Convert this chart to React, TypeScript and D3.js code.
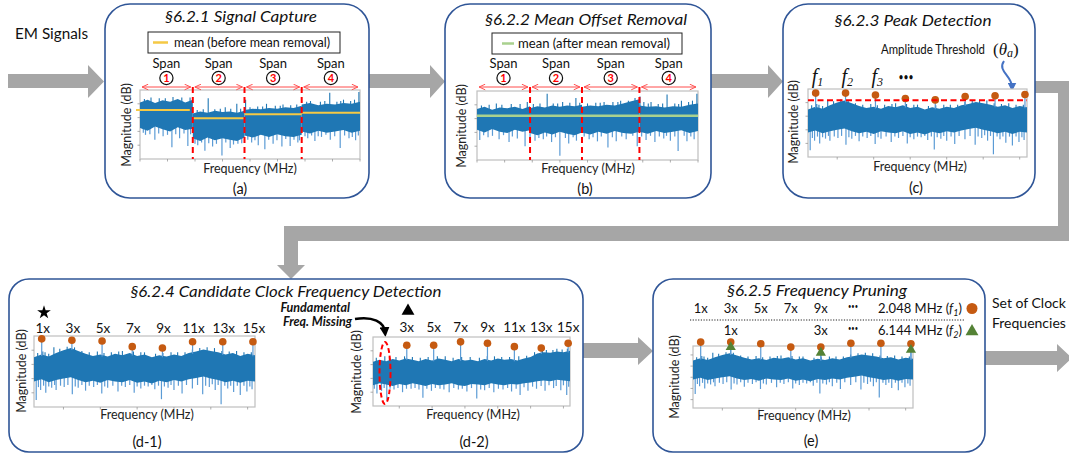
import React from "react";
import * as d3 from "d3";

const FONT = "Lato, 'Open Sans', 'DejaVu Sans', sans-serif";
const SERIF = "'Liberation Serif', 'DejaVu Serif', serif";

const NOISE = "#1f77b4";
const SPIKE = "#5b9bd5";
const ORANGE = "#c55a11";
const GREEN = "#548235";
const RED = "#ff0000";
const BOXBLUE = "#2f5597";
const GRAY = "#a6a6a6";

// ---------- §6.2.1 / §6.2.2 : four capture spans (relative frequency 0–40) ----------
const spanLabels = ["1", "2", "3", "4"];
const spanEdges = [0, 9.6, 19.0, 29.4, 40];
const rawUpper = [
  [82, 86, 81, 85, 83, 87, 82, 86],
  [66, 69, 67, 70, 68, 69, 67, 70],
  [71, 73, 72, 74, 73, 75, 74, 77],
  [79, 81, 78, 80, 79, 81, 80, 83],
];
const rawLower = [
  [45, 41, 47, 43, 40, 46, 42, 44],
  [30, 26, 31, 27, 30, 28, 26, 31],
  [34, 31, 35, 32, 36, 33, 32, 35],
  [40, 37, 41, 38, 40, 42, 38, 41],
];
const rawMeans = [71, 59, 65, 67];
const rawDown = [
  [1.0, 35], [2.7, 28], [4.2, 33], [5.8, 17], [7.2, 30], [8.7, 19], [10.5, 20], [11.8, 12],
  [13.2, 18], [14.9, 5], [16.4, 16], [17.8, 22], [20.3, 24], [21.5, 20], [22.7, 14], [24.2, 22],
  [25.8, 18], [27.3, 19], [28.7, 24], [30.5, 30], [31.8, 26], [33.0, 32], [34.6, 28], [36.4, 16],
  [38.0, 30], [39.2, 27],
  [0.6, 38], [1.8, 36], [3.4, 37], [5.0, 35], [6.5, 36], [8.0, 37], [9.2, 36],
  [10.0, 22], [11.2, 24], [12.5, 23], [13.9, 22], [15.6, 24], [17.0, 21], [18.5, 23],
  [19.6, 28], [20.9, 27], [23.4, 28], [24.9, 27], [26.5, 29], [28.0, 28], [29.0, 27],
  [30.0, 33], [31.2, 34], [32.4, 33], [33.8, 35], [35.4, 33], [37.2, 34], [38.6, 32], [39.7, 34],
];
const rawUp = [
  [3.5, 88], [9.1, 89], [12.4, 88], [15.5, 75], [17.6, 80], [19.2, 86], [23.0, 80], [26.0, 79],
  [34.5, 96], [37.0, 86], [39.8, 97],
  [0.8, 87], [2.0, 89], [4.6, 88], [6.0, 90], [7.6, 89],
  [10.4, 71], [11.5, 72], [13.6, 72], [14.6, 73], [16.5, 73], [18.3, 73],
  [20.0, 75], [21.4, 76], [22.3, 76], [24.6, 77], [25.5, 77], [27.4, 78], [28.5, 79],
  [30.3, 83], [31.0, 84], [32.8, 83], [33.6, 84], [35.8, 83], [36.5, 84], [38.3, 84], [39.0, 86],
];
const alignedUpper = [
  [74, 77, 73, 76, 75, 77, 74, 78],
  [75, 78, 76, 79, 77, 79, 78, 80],
  [77, 79, 78, 80, 79, 82, 85, 88],
  [79, 77, 78, 76, 78, 77, 80, 82],
];
const alignedLower = [
  [44, 40, 45, 41, 39, 44, 41, 43],
  [39, 36, 40, 37, 41, 38, 36, 40],
  [40, 37, 41, 38, 42, 39, 38, 41],
  [41, 38, 42, 39, 41, 43, 39, 42],
];
const alignedMean = 64;
const alignedDown = [
  [0.5, 29], [2.0, 33], [4.0, 30], [5.8, 26], [7.3, 31], [8.7, 20], [10.5, 28], [12.0, 30],
  [13.5, 26], [15.0, 6], [16.6, 24], [18.0, 28], [20.3, 30], [21.8, 27], [23.7, 18], [25.2, 27],
  [27.0, 30], [29.0, 20], [30.6, 29], [32.2, 26], [33.8, 31], [35.0, 28], [36.4, 13], [38.0, 27],
  [39.3, 30],
  [1.2, 36], [2.8, 35], [4.8, 36], [6.4, 34], [9.6, 33], [11.2, 32], [12.6, 34], [14.2, 33],
  [16.0, 32], [17.4, 33], [19.4, 34], [21.0, 33], [22.5, 34], [24.5, 33], [26.2, 34], [28.2, 35],
  [29.8, 34], [31.4, 35], [33.0, 34], [34.3, 35], [35.8, 34], [37.5, 35], [38.7, 34],
];
const alignedUp = [
  [3.5, 82], [9.1, 84], [12.7, 96], [15.5, 84], [17.9, 90], [23.0, 84], [26.0, 86], [29.5, 92],
  [31.5, 84], [34.4, 95], [37.0, 86], [39.8, 96],
  [0.8, 79], [2.2, 80], [4.5, 80], [6.2, 81], [7.8, 81], [10.2, 81], [11.4, 82], [13.8, 82],
  [14.6, 82], [16.8, 83], [18.6, 83], [20.0, 82], [21.5, 83], [22.3, 83], [24.6, 84], [25.5, 84],
  [27.4, 86], [28.6, 90], [30.2, 84], [31.0, 82], [32.8, 81], [33.6, 82], [35.8, 82], [36.5, 81],
  [38.3, 84], [39.0, 86],
];

// ---------- spectrum with clock at f1 (MHz 1–31) ----------
const freqGrid = d3.range(1, 32);
const f1Upper = [70, 74, 71, 76, 80, 83, 79, 75, 72, 74, 71, 75, 73, 76, 72, 74, 70, 73, 71, 74, 72, 76, 78, 81, 79, 77, 74, 76, 72, 75, 73];
const f1Lower = [36, 39, 35, 38, 40, 42, 38, 35, 37, 34, 38, 36, 35, 38, 34, 36, 33, 37, 35, 38, 36, 39, 41, 43, 40, 38, 35, 37, 34, 37, 36];
const f1Down = [
  [1.3, 10], [1.6, 28], [1.9, 24], [2.3, 30], [2.6, 20], [3.0, 29], [3.4, 27], [3.8, 31], [4.0, 24],
  [4.6, 30], [5.1, 28], [5.6, 31], [6.2, 18], [6.6, 29], [7.0, 27], [7.5, 31], [8.0, 23], [8.5, 30],
  [9.1, 28], [9.6, 31], [10.2, 19], [10.6, 29], [11.0, 27], [11.7, 30], [12.4, 22], [12.9, 30],
  [13.4, 28], [14.0, 31], [14.6, 20], [15.0, 29], [15.5, 26], [16.0, 30], [16.5, 29], [17.0, 31],
  [17.4, 25], [17.9, 30], [18.3, 11], [18.7, 29], [19.2, 27], [19.6, 31], [20.0, 24], [20.6, 30],
  [21.1, 19], [21.7, 31], [22.5, 26], [23.2, 31], [23.9, 18], [24.3, 30], [24.8, 28], [25.2, 32],
  [25.6, 24], [26.0, 31], [26.4, 4], [26.9, 30], [27.3, 26], [27.7, 30], [28.1, 21], [28.6, 30],
  [29.0, 17], [29.5, 30], [29.9, 22], [30.3, 29], [30.6, 25],
];
const f1Up = [
  [2.2, 78], [3.7, 84], [7.5, 79], [9.6, 78], [13.0, 79], [16.0, 77], [19.6, 77], [25.5, 83], [28.5, 79],
  [1.5, 76], [2.5, 77], [3.0, 75], [4.5, 82], [5.5, 85], [6.5, 84], [8.5, 77], [10.5, 76], [11.5, 77],
  [12.5, 78], [14.5, 78], [15.5, 77], [17.5, 75], [18.5, 76], [20.5, 77], [21.5, 77], [22.5, 81],
  [23.5, 83], [24.5, 84], [26.5, 79], [27.5, 78], [29.5, 77], [30.5, 77],
];

// spectrum where fundamental is missing (d-2)
const f2Upper = [64, 67, 65, 68, 66, 69, 67, 65, 68, 66, 69, 67, 65, 68, 66, 67, 65, 68, 66, 69, 67, 68, 66, 69, 71, 76, 78, 77, 79, 78, 80];
const f2Lower = [30, 33, 31, 29, 32, 30, 33, 31, 29, 32, 30, 31, 33, 30, 29, 32, 31, 30, 33, 31, 30, 32, 31, 33, 34, 36, 37, 36, 38, 37, 36];
const f2Down = [
  [1.6, 18], [2.3, 22], [3.1, 9], [4.2, 24], [5.5, 20], [6.8, 25], [8.6, 12], [9.9, 22], [11.2, 25],
  [12.6, 20], [14.0, 24], [15.3, 21], [16.8, 11], [18.0, 23], [19.4, 20], [20.8, 24], [22.1, 21],
  [23.4, 16], [24.6, 22], [25.9, 25], [27.2, 22], [28.5, 26], [29.6, 23], [30.5, 16],
  [1.2, 25], [2.7, 26], [3.6, 25], [4.8, 26], [6.1, 25], [7.4, 26], [8.0, 24], [9.2, 25], [10.5, 26],
  [11.8, 24], [13.3, 26], [14.6, 25], [16.0, 26], [17.4, 24], [18.7, 26], [20.1, 25], [21.5, 26],
  [22.8, 25], [24.0, 27], [25.3, 28], [26.6, 29], [27.8, 30], [28.9, 29], [30.0, 30], [30.8, 28],
];
const f2Up = [
  [2.8, 72], [7.0, 71], [12.0, 72], [19.5, 72], [26.8, 82], [29.0, 83],
  [1.5, 70], [3.5, 71], [4.5, 71], [5.8, 72], [8.2, 70], [9.4, 71], [10.8, 72], [13.2, 70], [14.5, 71],
  [15.8, 71], [17.2, 70], [18.4, 72], [20.6, 71], [21.8, 71], [23.2, 72], [24.4, 73], [25.6, 78],
  [27.4, 81], [28.4, 81], [29.8, 82], [30.6, 83],
];

// harmonics
const f1MHz = 2.048;
const f2MHz = 6.144;
const f1Orders = [1, 3, 5, 7, 9, 11, 13, 15];
const d2Orders = [3, 5, 7, 9, 11, 13, 15];
const f2Orders = [1, 3, 5];
const peaksC = [94, 94, 91, 86, 84, 89, 90, 92];
const thresholdC = 83.5;
const peaksD1 = [96, 94, 93, 85, 83, 92, 92, 92];
const peaksD2 = [88, 88, 93, 91, 86, 84, 91];
const peaksE = [103, 103, 100, 94, 94, 101, 101, 100];
const trianglesE = [94, 84, 89];
const eRow1Orders = [1, 3, 5, 7, 9];
const eRow2Orders = [1, 3];

// ---------- helpers ----------
type Seg = { xs: number[]; upper: number[]; lower: number[] };
type Box = { x0: number; x1: number; y0: number; y1: number };
type Mk = { f: number; v: number; shape: "circle" | "triangle" };

function interp(xs: number[], ys: number[], f: number) {
  if (f <= xs[0]) return ys[0];
  for (let i = 1; i < xs.length; i++) {
    if (f <= xs[i]) {
      const t = (f - xs[i - 1]) / (xs[i] - xs[i - 1]);
      return ys[i - 1] + t * (ys[i] - ys[i - 1]);
    }
  }
  return ys[ys.length - 1];
}
function segAt(segs: Seg[], f: number) {
  return segs.find((s) => f >= s.xs[0] && f <= s.xs[s.xs.length - 1]) || segs[segs.length - 1];
}
function scales(box: Box, xd: number[], yd: number[]) {
  return {
    x: d3.scaleLinear().domain(xd).range([box.x0, box.x1]),
    y: d3.scaleLinear().domain(yd).range([box.y1, box.y0]),
  };
}
function spanGrid(i: number, n: number) {
  const e0 = spanEdges[i], e1 = spanEdges[i + 1];
  return d3.range(n).map((k) => e0 + ((e1 - e0) * k) / (n - 1));
}

const triSym = (size: number) => d3.symbol().type(d3.symbolTriangle).size(size)() as string;

function Spectrum(p: { box: Box; sc: any; segs: Seg[]; down: number[][]; up: number[][]; markers?: Mk[]; nx?: number }) {
  const { x, y } = p.sc;
  const b = p.box;
  const area = d3.area<any>().x((d: any) => x(d.f)).y0((d: any) => y(d.l)).y1((d: any) => y(d.u));
  return (
    <g>
      <rect x={b.x0} y={b.y0} width={b.x1 - b.x0} height={b.y1 - b.y0} fill="#fff" stroke="#bfbfbf" strokeWidth={1.2} />
      {x.ticks(p.nx ?? 6).map((t: number) => (
        <line key={"x" + t} x1={x(t)} x2={x(t)} y1={b.y1} y2={b.y1 + 2.5} stroke="#999" strokeWidth={0.8} />
      ))}
      {y.ticks(4).filter((t: number) => y(t) > b.y0 + 3 && y(t) < b.y1 - 3).map((t: number) => (
        <line key={"y" + t} x1={b.x0 - 2.5} x2={b.x0} y1={y(t)} y2={y(t)} stroke="#999" strokeWidth={0.8} />
      ))}
      {p.down.map(([f, v], i) => {
        const s = segAt(p.segs, f);
        const base = interp(s.xs, s.lower, f) + 4;
        return <line key={"d" + i} x1={x(f)} x2={x(f)} y1={y(base)} y2={y(v)} stroke={SPIKE} strokeWidth={1.2} />;
      })}
      {p.segs.map((s, i) => (
        <path key={"s" + i} d={area(s.xs.map((f, k) => ({ f, u: s.upper[k], l: s.lower[k] }))) as string} fill={NOISE} />
      ))}
      {p.up.map(([f, v], i) => {
        const s = segAt(p.segs, f);
        const base = interp(s.xs, s.upper, f) - 3;
        return <line key={"u" + i} x1={x(f)} x2={x(f)} y1={y(base)} y2={y(v)} stroke={NOISE} strokeWidth={1.1} />;
      })}
      {(p.markers || []).map((m, i) => {
        const s = segAt(p.segs, m.f);
        const base = interp(s.xs, s.upper, m.f) - 2;
        return <line key={"st" + i} x1={x(m.f)} x2={x(m.f)} y1={y(base)} y2={y(m.v)} stroke={SPIKE} strokeWidth={1.2} />;
      })}
      {(p.markers || []).map((m, i) =>
        m.shape === "circle" ? (
          <circle key={"m" + i} cx={x(m.f)} cy={y(m.v)} r={3.8} fill={ORANGE} />
        ) : (
          <path key={"m" + i} d={triSym(45)} transform={`translate(${x(m.f)},${y(m.v)})`} fill={GREEN} />
        )
      )}
    </g>
  );
}

function MagLabel({ x, y }: { x: number; y: number }) {
  return (
    <text transform={`translate(${x},${y}) rotate(-90)`} textAnchor="middle" fontSize={12.5} fill="#222">
      Magnitude (dB)
    </text>
  );
}
function FreqLabel({ x, y }: { x: number; y: number }) {
  return (
    <text x={x} y={y} textAnchor="middle" fontSize={12.5} fill="#222">
      Frequency (MHz)
    </text>
  );
}
function Caption({ x, y, t }: { x: number; y: number; t: string }) {
  return (
    <text x={x} y={y} textAnchor="middle" fontSize={14.5} fill="#111">
      {t}
    </text>
  );
}
function Title({ x, y, w, t }: { x: number; y: number; w: number; t: string }) {
  return (
    <text x={x} y={y} textAnchor="middle" fontSize={15.5} fontStyle="italic" fill="#111" textLength={w} lengthAdjust="spacingAndGlyphs">
      {t}
    </text>
  );
}

function SpanHeader({ sc, box }: { sc: any; box: Box }) {
  const yA = 87;
  return (
    <g>
      {spanLabels.map((lab, i) => {
        const a = sc.x(spanEdges[i]) + 2;
        const b = sc.x(spanEdges[i + 1]) - 2;
        const mid = (sc.x(spanEdges[i]) + sc.x(spanEdges[i + 1])) / 2;
        return (
          <g key={lab}>
            <text x={mid} y={68} textAnchor="middle" fontSize={13} fill="#111">Span</text>
            <circle cx={mid} cy={78} r={6.6} fill="#fff" stroke="#111" strokeWidth={1.2} />
            <text x={mid} y={82} textAnchor="middle" fontSize={11} fontWeight="bold" fill={RED}>{lab}</text>
            <line x1={a} x2={b} y1={yA} y2={yA} stroke="#ff4d4d" strokeWidth={1} markerStart="url(#redArr)" markerEnd="url(#redArr)" />
          </g>
        );
      })}
      {spanEdges.slice(1, 4).map((e, i) => (
        <line key={"v" + i} x1={sc.x(e)} x2={sc.x(e)} y1={yA} y2={box.y1} stroke={RED} strokeWidth={2} strokeDasharray="6,4" />
      ))}
    </g>
  );
}

const grayArrows = [
  [[8, 74], [88, 74], [88, 65], [104, 81.5], [88, 98], [88, 88], [8, 88]],
  [[369, 74], [430, 74], [430, 65], [445, 81.5], [430, 98], [430, 88], [369, 88]],
  [[711, 74], [768, 74], [768, 65], [783, 81.5], [768, 98], [768, 88], [711, 88]],
  [[1035, 81], [1072, 81], [1072, 241], [298, 241], [298, 265], [305, 265], [291, 279], [277, 265], [284, 265], [284, 226], [1058, 226], [1058, 93], [1035, 93]],
  [[583, 343], [638, 343], [638, 337], [653, 351], [638, 365], [638, 358], [583, 358]],
  [[985, 351], [1057, 351], [1057, 344], [1072, 358], [1057, 372], [1057, 365], [985, 365]],
];

export default function App() {
  const boxA: Box = { x0: 140, x1: 360, y0: 90, y1: 159 };
  const boxB: Box = { x0: 477, x1: 698, y0: 91, y1: 160 };
  const boxC: Box = { x0: 808, x1: 1027, y0: 89, y1: 157 };
  const boxD1: Box = { x0: 34, x1: 255, y0: 336, y1: 407 };
  const boxD2: Box = { x0: 373, x1: 570, y0: 337, y1: 406 };
  const boxE: Box = { x0: 693, x1: 913, y0: 346, y1: 408 };

  const sA = scales(boxA, [0, 40], [0, 100]);
  const sB = scales(boxB, [0, 40], [0, 100]);
  const sC = scales(boxC, [1, 31], [0, 100]);
  const sD1 = scales(boxD1, [1, 31], [0, 100]);
  const sD2 = scales(boxD2, [1, 31], [0, 100]);
  const sE = scales(boxE, [1, 31], [-15, 96]);

  const rawSegs: Seg[] = spanLabels.map((_, i) => ({ xs: spanGrid(i, rawUpper[i].length), upper: rawUpper[i], lower: rawLower[i] }));
  const alignedSegs: Seg[] = spanLabels.map((_, i) => ({ xs: spanGrid(i, alignedUpper[i].length), upper: alignedUpper[i], lower: alignedLower[i] }));
  const f1Segs: Seg[] = [{ xs: freqGrid, upper: f1Upper, lower: f1Lower }];
  const f2Segs: Seg[] = [{ xs: freqGrid, upper: f2Upper, lower: f2Lower }];

  const mkC: Mk[] = f1Orders.map((o, i) => ({ f: o * f1MHz, v: peaksC[i], shape: "circle" }));
  const mkD1: Mk[] = f1Orders.map((o, i) => ({ f: o * f1MHz, v: peaksD1[i], shape: "circle" }));
  const mkD2: Mk[] = d2Orders.map((o, i) => ({ f: o * f1MHz, v: peaksD2[i], shape: "circle" }));
  const mkE: Mk[] = [
    ...f1Orders.map((o, i) => ({ f: o * f1MHz, v: peaksE[i], shape: "circle" as const })),
    ...f2Orders.map((o, i) => ({ f: o * f2MHz, v: trianglesE[i], shape: "triangle" as const })),
  ];

  return (
    <svg width={1069} height={455} viewBox="0 0 1069 455" style={{ position: "absolute", left: 0, top: 0, background: "#fff" }} fontFamily={FONT}>
      <defs>
        <marker id="redArr" viewBox="0 0 8 8" refX="7.6" refY="4" markerWidth="7" markerHeight="7" markerUnits="userSpaceOnUse" orient="auto-start-reverse">
          <path d="M0.5,0.8 L7.5,4 L0.5,7.2" fill="none" stroke="#ff4d4d" strokeWidth={1.1} />
        </marker>
        <marker id="blkArr" viewBox="0 0 10 10" refX="5" refY="5" markerWidth="10" markerHeight="10" markerUnits="userSpaceOnUse" orient="auto">
          <path d="M0,0 L10,5 L0,10 z" fill="#000" />
        </marker>
        <marker id="bluArr" viewBox="0 0 10 10" refX="5" refY="5" markerWidth="9" markerHeight="9" markerUnits="userSpaceOnUse" orient="auto">
          <path d="M0,0 L10,5 L0,10 z" fill="#4472c4" />
        </marker>
      </defs>

      {grayArrows.map((pts, i) => (
        <polygon key={i} points={pts.map((p) => p.join(",")).join(" ")} fill={GRAY} />
      ))}

      {/* panel boxes */}
      <rect x={105} y={4} width={264} height={194} rx={25} fill="#fff" stroke={BOXBLUE} strokeWidth={1.6} />
      <rect x={445} y={4} width={266} height={194} rx={25} fill="#fff" stroke={BOXBLUE} strokeWidth={1.6} />
      <rect x={783} y={4} width={252} height={194} rx={25} fill="#fff" stroke={BOXBLUE} strokeWidth={1.6} />
      <rect x={9} y={279} width={574} height={173} rx={20} fill="#fff" stroke={BOXBLUE} strokeWidth={1.6} />
      <rect x={653} y={279} width={332} height={173} rx={20} fill="#fff" stroke={BOXBLUE} strokeWidth={1.6} />

      <text x={15} y={39} fontSize={14.5} fill="#111" textLength={73} lengthAdjust="spacingAndGlyphs">EM Signals</text>

      {/* (a) */}
      <Title x={241} y={22} w={152} t="§6.2.1 Signal Capture" />
      <rect x={148} y={32} width={192} height={21} fill="#fff" stroke="#222" strokeWidth={1} />
      <line x1={153} x2={168} y1={42.5} y2={42.5} stroke="#f5c945" strokeWidth={2.5} />
      <text x={174} y={47} fontSize={12.5} fill="#111" textLength={156} lengthAdjust="spacingAndGlyphs">mean (before mean removal)</text>
      <Spectrum box={boxA} sc={sA} segs={rawSegs} down={rawDown} up={rawUp} />
      {rawMeans.map((m, i) => (
        <line key={"ma" + i} x1={i === 0 ? boxA.x0 - 4 : sA.x(spanEdges[i])} x2={sA.x(spanEdges[i + 1]) - (i === 0 ? 3 : 0)} y1={sA.y(m)} y2={sA.y(m)} stroke="#f5c945" strokeWidth={2} />
      ))}
      <SpanHeader sc={sA} box={boxA} />
      <MagLabel x={131} y={125} />
      <FreqLabel x={250} y={173} />
      <Caption x={240} y={194} t="(a)" />

      {/* (b) */}
      <Title x={586} y={25} w={202} t="§6.2.2 Mean Offset Removal" />
      <rect x={492} y={33} width={190} height={21} fill="#fff" stroke="#222" strokeWidth={1} />
      <line x1={502} x2={514} y1={43.5} y2={43.5} stroke="#a9d18e" strokeWidth={2.5} />
      <text x={518} y={48} fontSize={12.5} fill="#111" textLength={152} lengthAdjust="spacingAndGlyphs">mean (after mean removal)</text>
      <Spectrum box={boxB} sc={sB} segs={alignedSegs} down={alignedDown} up={alignedUp} />
      <line x1={boxB.x0} x2={boxB.x1} y1={sB.y(alignedMean)} y2={sB.y(alignedMean)} stroke="#a9d18e" strokeWidth={2.5} />
      <SpanHeader sc={sB} box={boxB} />
      <MagLabel x={466} y={126} />
      <FreqLabel x={588} y={173} />
      <Caption x={585} y={194} t="(b)" />

      {/* (c) */}
      <Title x={913} y={26} w={157} t="§6.2.3 Peak Detection" />
      <text x={881} y={54} fontSize={12.5} fill="#111" textLength={104} lengthAdjust="spacingAndGlyphs">Amplitude Threshold</text>
      <text x={993} y={55} fontSize={17} fontFamily={SERIF} fill="#111">
        (<tspan fontStyle="italic">θ</tspan><tspan fontStyle="italic" fontSize={12} dy={2}>a</tspan><tspan dy={-2}>)</tspan>
      </text>
      <path d="M1004,61 C997,71 1012,76 1012,87" fill="none" stroke="#4472c4" strokeWidth={2} markerEnd="url(#bluArr)" />
      {f1Orders.slice(0, 3).map((o, i) => (
        <text key={"fl" + i} x={sC.x(o * f1MHz) - 4} y={83} fontSize={20} fontFamily={SERIF} fontStyle="italic" fill="#111">
          f<tspan fontSize={12} dy={3}>{i + 1}</tspan>
        </text>
      ))}
      <text x={906} y={81} textAnchor="middle" fontSize={11} fill="#111" textLength={15} lengthAdjust="spacingAndGlyphs">•••</text>
      <Spectrum box={boxC} sc={sC} segs={f1Segs} down={f1Down} up={f1Up} markers={mkC} />
      <line x1={boxC.x0} x2={boxC.x1} y1={sC.y(thresholdC)} y2={sC.y(thresholdC)} stroke={RED} strokeWidth={2} strokeDasharray="6,3.5" />
      <MagLabel x={798} y={122} />
      <FreqLabel x={920} y={171} />
      <Caption x={916} y={193} t="(c)" />

      {/* (d) */}
      <Title x={286} y={297} w={311} t="§6.2.4 Candidate Clock Frequency Detection" />
      <path d={d3.symbol().type(d3.symbolStar).size(58)() as string} transform="translate(44,312.5)" fill="#000" />
      {f1Orders.map((o) => (
        <text key={"d1" + o} x={sD1.x(o * f1MHz) + 1} y={333} textAnchor="middle" fontSize={13.5} fill="#111">{o}x</text>
      ))}
      <Spectrum box={boxD1} sc={sD1} segs={f1Segs} down={f1Down} up={f1Up} markers={mkD1} />
      <MagLabel x={26} y={371} />
      <FreqLabel x={147} y={419} />
      <Caption x={147} y={447} t="(d-1)" />

      <text x={350} y={312} textAnchor="end" fontSize={12.5} fontWeight="bold" fontStyle="italic" fill="#111">Fundamental</text>
      <text x={352} y={325.5} textAnchor="end" fontSize={12.5} fontWeight="bold" fontStyle="italic" fill="#111">Freq. Missing</text>
      <path d="M355,319 C373,316 384,322 385,332" fill="none" stroke="#000" strokeWidth={2.5} markerEnd="url(#blkArr)" />
      <path d={triSym(72)} transform="translate(408,311)" fill="#000" />
      {d2Orders.map((o) => (
        <text key={"d2" + o} x={sD2.x(o * f1MHz)} y={332} textAnchor="middle" fontSize={13.5} fill="#111">{o}x</text>
      ))}
      <Spectrum box={boxD2} sc={sD2} segs={f2Segs} down={f2Down} up={f2Up} markers={mkD2} />
      <ellipse cx={385} cy={373} rx={5.5} ry={31} fill="none" stroke={RED} strokeWidth={2} strokeDasharray="5,3" />
      <MagLabel x={361} y={372} />
      <FreqLabel x={473} y={419} />
      <Caption x={474} y={447} t="(d-2)" />

      {/* (e) */}
      <Title x={817} y={296} w={180} t="§6.2.5 Frequency Pruning" />
      {eRow1Orders.map((o) => (
        <text key={"e1" + o} x={sE.x(o * f1MHz)} y={313} textAnchor="middle" fontSize={13} fill="#111">{o}x</text>
      ))}
      <text x={853} y={309} textAnchor="middle" fontSize={8} fill="#111" textLength={10} lengthAdjust="spacingAndGlyphs">•••</text>
      <text x={962} y={313} textAnchor="end" fontSize={13} fill="#111">
        2.048 MHz (<tspan fontStyle="italic">f</tspan><tspan fontSize={9} dy={3} fontStyle="italic">1</tspan><tspan dy={-3}>)</tspan>
      </text>
      <circle cx={972} cy={308.5} r={5.5} fill={ORANGE} />
      <line x1={690} x2={965} y1={320} y2={320} stroke="#222" strokeWidth={1} strokeDasharray="1.2,1.5" />
      {eRow2Orders.map((o) => (
        <text key={"e2" + o} x={sE.x(o * f2MHz)} y={335} textAnchor="middle" fontSize={13} fill="#111">{o}x</text>
      ))}
      <text x={853} y={331} textAnchor="middle" fontSize={8} fill="#111" textLength={10} lengthAdjust="spacingAndGlyphs">•••</text>
      <text x={962} y={335} textAnchor="end" fontSize={13} fill="#111">
        6.144 MHz (<tspan fontStyle="italic">f</tspan><tspan fontSize={9} dy={3} fontStyle="italic">2</tspan><tspan dy={-3}>)</tspan>
      </text>
      <path d={triSym(72)} transform="translate(972,331.5)" fill={GREEN} />
      <Spectrum box={boxE} sc={sE} segs={f1Segs} down={f1Down} up={f1Up} markers={mkE} />
      <MagLabel x={679} y={377} />
      <FreqLabel x={804} y={420} />
      <Caption x={811} y={446} t="(e)" />

      <text x={992} y={308} fontSize={14} fill="#111">Set of Clock</text>
      <text x={992} y={328} fontSize={14} fill="#111">Frequencies</text>
    </svg>
  );
}
